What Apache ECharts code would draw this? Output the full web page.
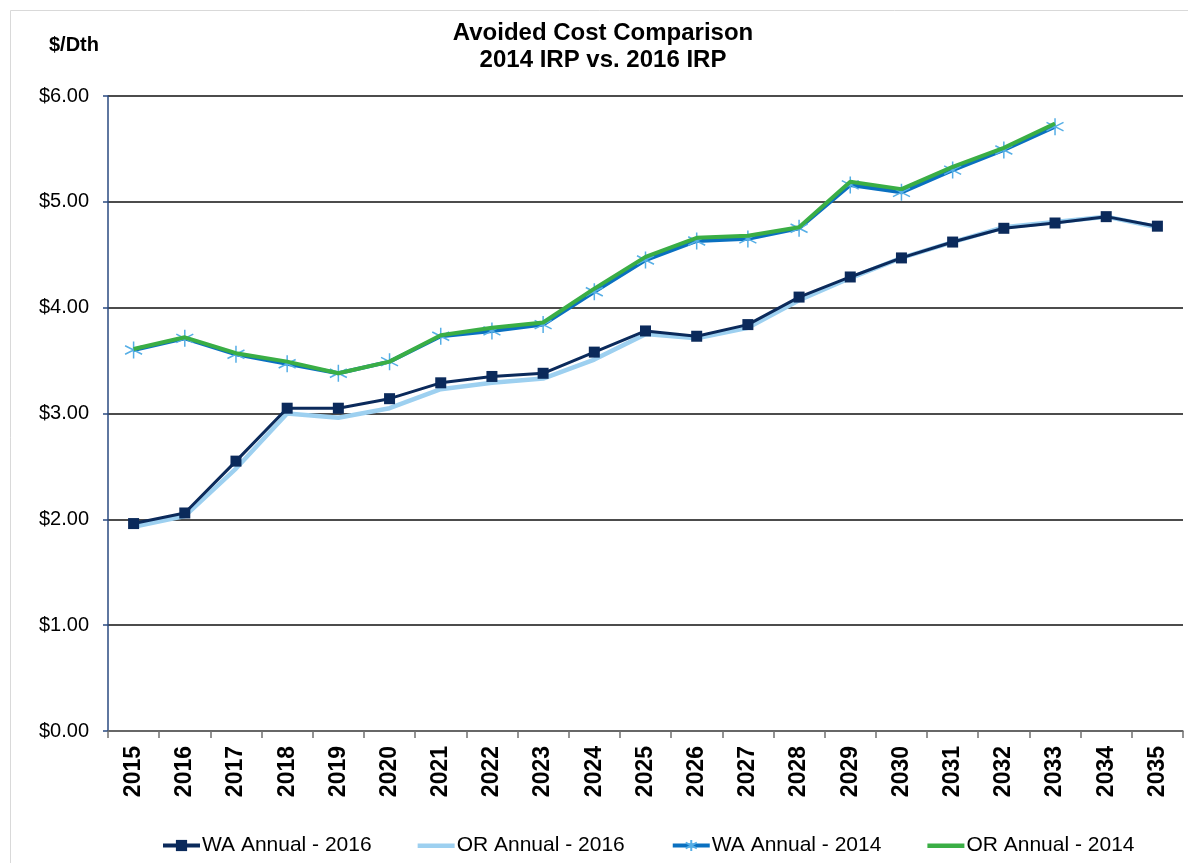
<!DOCTYPE html>
<html>
<head>
<meta charset="utf-8">
<script src="https://cdn.jsdelivr.net/npm/echarts@6/dist/echarts.min.js"></script>
<style>
  html, body { margin: 0; padding: 0; background: #fff; }
  #chart { width: 1188px; height: 863px; }
</style>
</head>
<body>
<div id="chart"></div>
<script>
// Avoided cost ($/Dth) by year, 2016 IRP vs. 2014 IRP
const years = ['2015','2016','2017','2018','2019','2020','2021','2022','2023','2024',
               '2025','2026','2027','2028','2029','2030','2031','2032','2033','2034','2035'];
const waAnnual2016 = [1.96,2.06,2.55,3.05,3.05,3.14,3.29,3.35,3.38,3.58,3.78,3.73,3.84,4.10,4.29,4.47,4.62,4.75,4.80,4.86,4.77];
const orAnnual2016 = [1.93,2.03,2.48,3.00,2.96,3.05,3.23,3.29,3.33,3.51,3.75,3.71,3.81,4.07,4.28,4.47,4.62,4.76,4.81,4.86,4.76];
const waAnnual2014 = [3.60,3.71,3.56,3.47,3.38,3.49,3.73,3.78,3.84,4.15,4.45,4.63,4.65,4.75,5.16,5.09,5.30,5.49,5.71];
const orAnnual2014 = [3.61,3.72,3.57,3.49,3.38,3.49,3.74,3.81,3.86,4.18,4.48,4.66,4.68,4.76,5.19,5.12,5.33,5.51,5.74];
const yTicks = { min: 0, max: 6, step: 1 };

const FONT = '"Liberation Sans", Arial, sans-serif';
const asterisk = 'path://M10,0 L10,20 M1.34,5 L18.66,15 M1.34,15 L18.66,5';
// plain bar used as the legend key of the line-only series (box kept at 37x14)
const barKey = 'path://M0,0 L0.01,0 M0,5 L37,5 L37,9.5 L0,9.5 Z M37,14 L36.99,14';

const chart = echarts.init(document.getElementById('chart'), null, { renderer: 'canvas' });

chart.setOption({
  backgroundColor: '#ffffff',
  animation: false,
  textStyle: { fontFamily: FONT },
  graphic: [
    {
      type: 'rect', silent: true, z: 0,
      shape: { x: 10.5, y: 10.5, width: 1200, height: 900 },
      style: { fill: 'none', stroke: '#d9d9d9', lineWidth: 1 }
    },
    {
      type: 'text', x: 603, y: 20, z: 10,
      style: {
        text: 'Avoided Cost Comparison\n2014 IRP vs. 2016 IRP',
        align: 'center', verticalAlign: 'top',
        font: 'bold 24px ' + FONT, lineHeight: 27, fill: '#000'
      }
    },
    {
      type: 'text', x: 49, y: 35, z: 10,
      style: { text: '$/Dth', font: 'bold 20px ' + FONT, fill: '#000', verticalAlign: 'top' }
    }
  ],
  legend: {
    left: 156, top: 830,
    itemWidth: 37, itemHeight: 14, itemGap: 46,
    lineStyle: { width: 4 },
    textStyle: { fontSize: 21, color: '#000', fontFamily: FONT, padding: [0, 0, 0, -3] },
    data: [
      { name: 'WA Annual - 2016' },
      { name: 'OR Annual - 2016', icon: barKey },
      { name: 'WA Annual - 2014' },
      { name: 'OR Annual - 2014', icon: barKey }
    ]
  },
  grid: { left: 108, right: 5, top: 96, bottom: 132, containLabel: false },
  xAxis: {
    type: 'category',
    data: years,
    boundaryGap: true,
    axisLine: { show: true, lineStyle: { color: '#707070', width: 1.5 } },
    axisTick: { show: true, length: 7, alignWithLabel: false, lineStyle: { color: '#707070', width: 1.5 } },
    axisLabel: { rotate: 90, margin: 15, fontSize: 23, fontWeight: 'bold', color: '#000', fontFamily: FONT, interval: 0 },
    splitLine: { show: false }
  },
  yAxis: {
    type: 'value',
    min: yTicks.min, max: yTicks.max, interval: yTicks.step,
    axisLine: { show: true, lineStyle: { color: '#2a4a80', width: 1.5 } },
    axisTick: { show: true, length: 5, lineStyle: { color: '#2a4a80', width: 1.5 } },
    axisLabel: {
      margin: 19, fontSize: 20, color: '#000', fontFamily: FONT,
      formatter: v => '$' + v.toFixed(2)
    },
    splitLine: { show: true, lineStyle: { color: '#111', width: 1.5 } }
  },
  series: [
    {
      name: 'WA Annual - 2016', type: 'line', data: waAnnual2016, z: 4,
      symbol: 'rect', symbolSize: 11, showSymbol: true,
      lineStyle: { color: '#0b2a5b', width: 3 },
      itemStyle: { color: '#0b2a5b' }
    },
    {
      name: 'OR Annual - 2016', type: 'line', data: orAnnual2016, z: 3,
      symbol: 'none',
      lineStyle: { color: '#9dd0f0', width: 4.5 },
      itemStyle: { color: '#9dd0f0' }
    },
    {
      name: 'WA Annual - 2014', type: 'line', data: waAnnual2014, z: 5,
      symbol: asterisk, symbolSize: 17,
      lineStyle: { color: '#0a70c0', width: 4 },
      itemStyle: { color: 'rgba(0,0,0,0)', borderColor: '#55aee6', borderWidth: 1.5 }
    },
    {
      name: 'OR Annual - 2014', type: 'line', data: orAnnual2014, z: 6,
      symbol: 'none',
      lineStyle: { color: '#3aae45', width: 4 },
      itemStyle: { color: '#3aae45' }
    }
  ]
});
</script>
</body>
</html>
